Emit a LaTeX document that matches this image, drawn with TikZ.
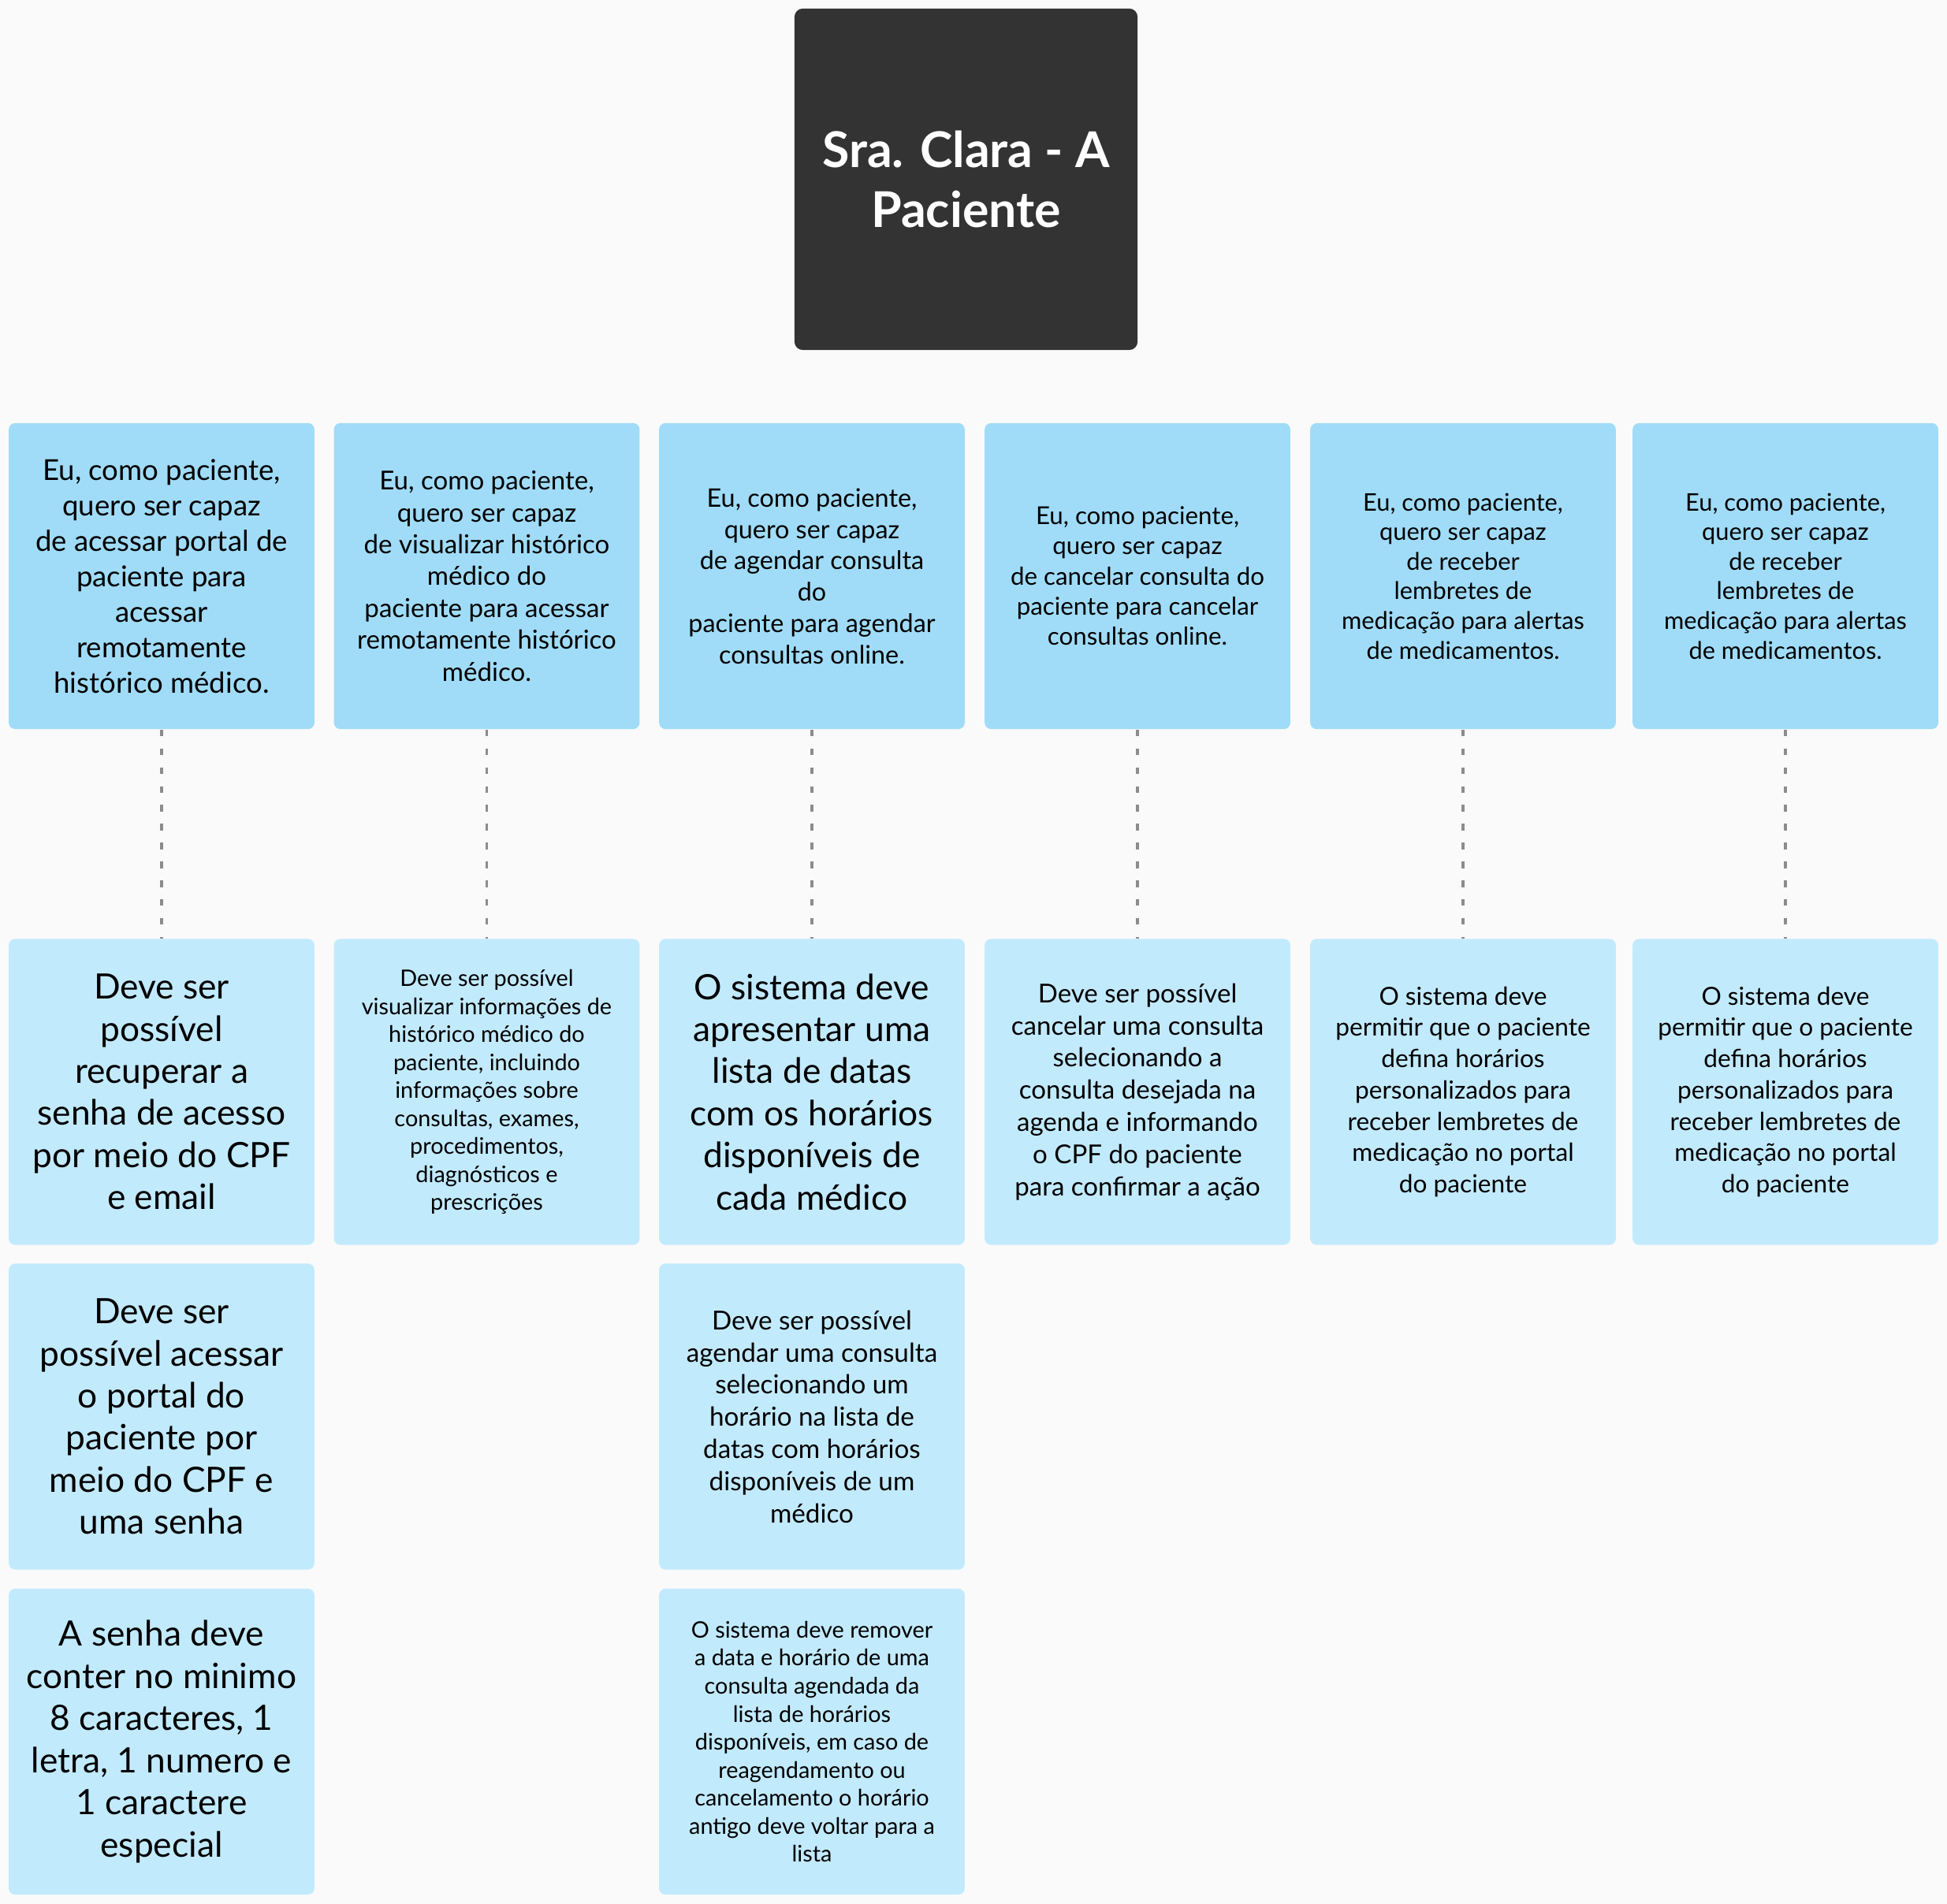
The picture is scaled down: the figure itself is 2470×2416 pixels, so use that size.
\documentclass[tikz,border=0pt]{standalone}
\usepackage{fontspec}
\setmainfont{Lato}
\definecolor{pagebg}{HTML}{FAFAFA}
\definecolor{personagray}{HTML}{333333}
\definecolor{storyblue}{HTML}{A0DCF8}
\definecolor{reqblue}{HTML}{C2EAFD}
\definecolor{linkgray}{HTML}{8C8C8C}
\tikzset{
  fsz/.style 2 args={font=\fontsize{#1}{#2}\selectfont},
  card/.style={rounded corners=2.3pt, inner sep=0pt, minimum width=3.875cm,
    minimum height=3.88cm, align=center, text=black},
  story/.style={card, fill=storyblue},
  req/.style={card, fill=reqblue},
  bigreq/.style={req, fsz={12.6}{15.2}},
  link/.style={draw=linkgray, line width=0.95pt, dash pattern=on 2.4pt off 4.4pt},
}
\begin{document}
\begin{tikzpicture}[x=0.01cm, y=-0.01cm]
\fill[pagebg] (0,0) rectangle (2470,2416);
\useasboundingbox (0,0) rectangle (2470,2416);
% Persona
\node[fill=personagray, rounded corners=3pt, inner sep=0pt, minimum width=4.35cm,
  minimum height=4.33cm, align=center, text=white, fsz={17.8}{21.4}]
  (persona) at (1225.5,227.5) {\bfseries Sra. Clara - A\\\bfseries Paciente};
% Historias de usuario
\node[story, fsz={10.4}{12.8}] (story1) at (205,731)
  {Eu, como paciente,\\quero ser capaz\\de acessar portal de\\paciente para\\acessar\\remotamente\\histórico médico.};
\node[story, fsz={9.4}{11.5}] (story2) at (617.5,731)
  {Eu, como paciente,\\quero ser capaz\\de visualizar histórico\\médico do\\paciente para acessar\\remotamente histórico\\médico.};
\node[story, fsz={9.2}{11.3}] (story3) at (1030,731)
  {Eu, como paciente,\\quero ser capaz\\de agendar consulta\\do\\paciente para agendar\\consultas online.};
\node[story, fsz={8.9}{10.9}] (story4) at (1443,731)
  {Eu, como paciente,\\quero ser capaz\\de cancelar consulta do\\paciente para cancelar\\consultas online.};
\node[story, fsz={8.75}{10.7}] (story5) at (1856,731)
  {Eu, como paciente,\\quero ser capaz\\de receber\\lembretes de\\medicação para alertas\\de medicamentos.};
\node[story, fsz={8.75}{10.7}] (story6) at (2265,731)
  {Eu, como paciente,\\quero ser capaz\\de receber\\lembretes de\\medicação para alertas\\de medicamentos.};
% Requisitos
\node[bigreq] (req1) at (205,1385.5)
  {Deve ser\\possível\\recuperar a\\senha de acesso\\por meio do CPF\\e email};
\node[req, fsz={8.2}{10.1}] (req2) at (617.5,1385.5)
  {Deve ser possível\\visualizar informações de\\histórico médico do\\paciente, incluindo\\informações sobre\\consultas, exames,\\procedimentos,\\diagnósticos e\\prescrições};
\node[bigreq] (req3) at (1030,1385.5)
  {O sistema deve\\apresentar uma\\lista de datas\\com os horários\\disponíveis de\\cada médico};
\node[req, fsz={9.4}{11.6}] (req4) at (1443,1385.5)
  {Deve ser possível\\cancelar uma consulta\\selecionando a\\consulta desejada na\\agenda e informando\\o CPF do paciente\\para confirmar a ação};
\node[req, fsz={9.0}{11.3}] (req5) at (1856,1385.5)
  {O sistema deve\\permitir que o paciente\\defina horários\\personalizados para\\receber lembretes de\\medicação no portal\\do paciente};
\node[req, fsz={9.0}{11.3}] (req6) at (2265,1385.5)
  {O sistema deve\\permitir que o paciente\\defina horários\\personalizados para\\receber lembretes de\\medicação no portal\\do paciente};
\node[bigreq] (req1b) at (205,1797.5)
  {Deve ser\\possível acessar\\o portal do\\paciente por\\meio do CPF e\\uma senha};
\node[req, fsz={9.45}{11.6}] (req3b) at (1030,1797.5)
  {Deve ser possível\\agendar uma consulta\\selecionando um\\horário na lista de\\datas com horários\\disponíveis de um\\médico};
\node[bigreq] (req1c) at (205,2210)
  {A senha deve\\conter no minimo\\8 caracteres, 1\\letra, 1 numero e\\1 caractere\\especial};
\node[req, fsz={8.2}{10.1}] (req3c) at (1030,2210)
  {O sistema deve remover\\a data e horário de uma\\consulta agendada da\\lista de horários\\disponíveis, em caso de\\reagendamento ou\\cancelamento o horário\\antigo deve voltar para a\\lista};
% Ligacoes
\foreach \c in {1,...,6}
  \draw[link] (story\c.south) -- (req\c.north);
\end{tikzpicture}
\end{document}
